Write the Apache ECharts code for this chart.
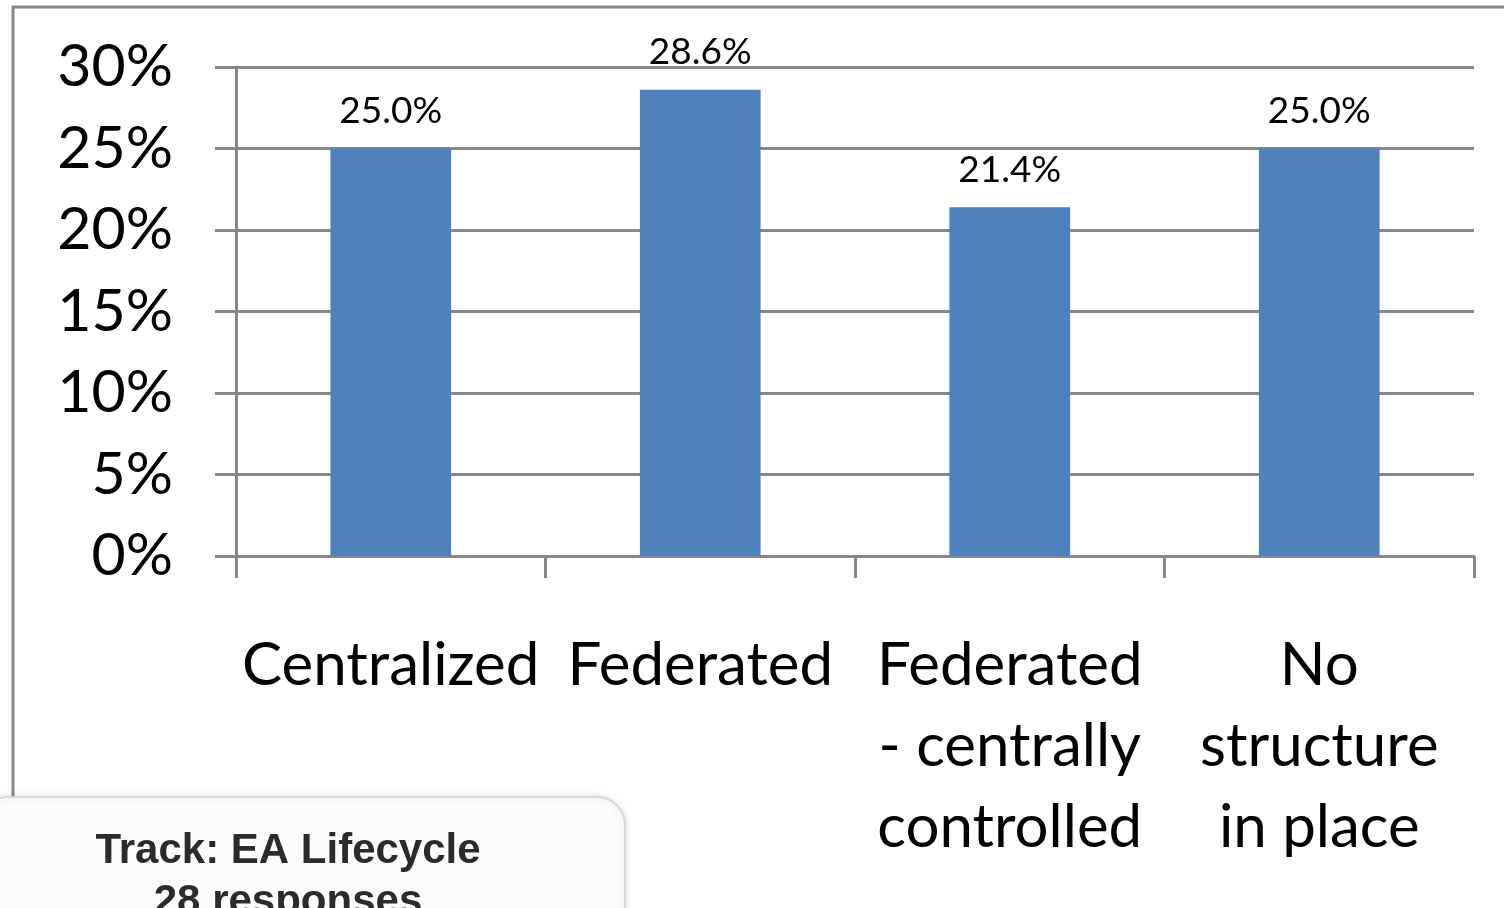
<!DOCTYPE html>
<html>
<head>
<meta charset="utf-8">
<script src="https://cdn.jsdelivr.net/npm/echarts@6/dist/echarts.min.js"></script>
<style>
  html, body { margin: 0; padding: 0; background: #fff; }
  #chart { width: 1504px; height: 908px; }
</style>
</head>
<body>
<div id="chart"></div>
<script>
const categories = ['Centralized', 'Federated', 'Federated\n- centrally\ncontrolled', 'No\nstructure\nin place'];
const shares = [25.0, 28.6, 21.4, 25.0];
const yTicks = [0, 5, 10, 15, 20, 25, 30];
const boxLines = ['Track: EA Lifecycle', '28 responses'];

const myChart = echarts.init(document.getElementById('chart'));

const gridColor = '#878787';

const option = {
  animation: false,
  grid: { left: 236, right: 30, top: 67, bottom: 352 },
  xAxis: {
    type: 'category',
    data: categories,
    boundaryGap: true,
    axisLine: { show: true, lineStyle: { color: gridColor, width: 3 } },
    axisTick: { show: true, length: 22, alignWithLabel: false, lineStyle: { color: gridColor, width: 3 } },
    axisLabel: {
      color: '#000',
      fontFamily: 'Lato',
      fontSize: 60,
      lineHeight: 81,
      margin: 69,
      interval: 0,
    },
  },
  yAxis: {
    type: 'value',
    min: yTicks[0],
    max: yTicks[yTicks.length - 1],
    interval: 5,
    axisLine: { show: true, lineStyle: { color: gridColor, width: 3 } },
    axisTick: { show: true, length: 21, lineStyle: { color: gridColor, width: 3 } },
    splitLine: { show: true, lineStyle: { color: gridColor, width: 3 } },
    axisLabel: {
      color: '#000',
      fontFamily: 'Lato',
      fontSize: 59,
      margin: 63,
      formatter: (v) => `${v}%`,
    },
  },
  series: [
    {
      type: 'bar',
      data: shares,
      barWidth: '39%',
      itemStyle: { color: '#4F81BD' },
      label: {
        show: true,
        position: 'top',
        distance: 19,
        color: '#000',
        fontFamily: 'Lato',
        fontSize: 37,
        formatter: (p) => `${p.value.toFixed(1)}%`,
      },
    },
  ],
  graphic: [
    {
      type: 'rect',
      silent: true,
      z: -1,
      shape: { x: 13, y: 7, width: 1560, height: 1000 },
      style: { fill: 'none', stroke: gridColor, lineWidth: 3 },
    },
    {
      type: 'group',
      z: 100,
      children: [
        {
          type: 'rect',
          shape: { x: -20, y: 797, width: 645, height: 160, r: 28 },
          style: {
            fill: '#fcfcfc',
            stroke: '#d8d8d8',
            lineWidth: 2,
            shadowBlur: 8,
            shadowColor: 'rgba(0,0,0,0.12)',
          },
        },
        {
          type: 'text',
          style: {
            x: 288,
            y: 851,
            text: boxLines[0],
            fontFamily: 'Liberation Sans',
            fontWeight: 'bold',
            fontSize: 42,
            fill: '#2b2b2b',
            align: 'center',
            verticalAlign: 'middle',
          },
        },
        {
          type: 'text',
          style: {
            x: 288,
            y: 902,
            text: boxLines[1],
            fontFamily: 'Liberation Sans',
            fontWeight: 'bold',
            fontSize: 42,
            fill: '#2b2b2b',
            align: 'center',
            verticalAlign: 'middle',
          },
        },
      ],
    },
  ],
};

myChart.setOption(option);
window.addEventListener('resize', () => {
  myChart.resize();
});
</script>
</body>
</html>
